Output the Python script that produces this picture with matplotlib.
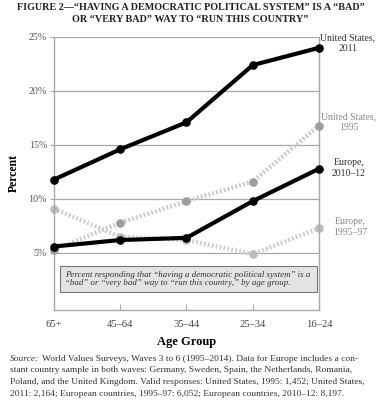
import matplotlib
matplotlib.use("Agg")
import matplotlib.pyplot as plt
from matplotlib.patches import Rectangle
from matplotlib.transforms import offset_copy

plt.rcParams['font.family'] = ['Liberation Serif', 'DejaVu Serif']

age_groups = ["65+", "45–64", "35–44", "25–34", "16–24"]
us_2011 = [11.8, 14.6, 17.1, 22.4, 24.0]
us_1995 = [5.3, 7.8, 9.8, 11.6, 16.8]
eu_2010 = [5.6, 6.2, 6.4, 9.8, 12.8]
eu_1995 = [9.1, 6.5, 6.2, 4.9, 7.3]
y_ticks = [5, 10, 15, 20, 25]
y_tick_labels = ["5%", "10%", "15%", "20%", "25%"]

fig = plt.figure(figsize=(3.81, 4.0), dpi=100)
ax = fig.add_axes([54/381, 1-310/400, (319-54)/381, (310-37)/400])
x = list(range(len(age_groups)))

grid_c = "#a8a8a8"
for y in y_ticks:
    ax.axhline(y, color=grid_c, lw=0.9, zorder=1)

dot_ls = (0, (0.45, 0.45))
ax.plot(x, eu_1995, color="#d0d0d0", lw=3.2, ls=dot_ls, zorder=2, clip_on=False)
ax.plot(x, eu_1995, ls="none", marker="o", ms=5.2, color="#bdbdbd", zorder=2, clip_on=False)
ax.plot(x, us_1995, color="#cccccc", lw=3.2, ls=dot_ls, zorder=3, clip_on=False)
ax.plot(x, us_1995, ls="none", marker="o", ms=5.2, color="#9d9d9d", zorder=3, clip_on=False)
ax.plot(x, eu_2010, color="black", lw=3.0, marker="o", ms=5.2, zorder=4, clip_on=False)
ax.plot(x, us_2011, color="black", lw=3.0, marker="o", ms=5.2, zorder=5, clip_on=False)

ax.set_xlim(0, 4)
ax.set_ylim(-0.28, 25)
ax.set_yticks(y_ticks)
ax.set_yticklabels(y_tick_labels, color="#555555", fontsize=7.2)
ax.set_xticks(x)
ax.set_xticklabels(age_groups, color="#444444", fontsize=7.6)
ax.tick_params(axis='y', length=3, width=0.8, color=grid_c, pad=2)
ax.tick_params(axis='x', direction='in', length=4, width=0.8, color=grid_c, pad=7)
for s in ['left', 'right', 'bottom']:
    ax.spines[s].set_color(grid_c)
    ax.spines[s].set_linewidth(1.0)
ax.spines['top'].set_visible(False)

ax.set_ylabel("Percent", fontsize=8.5, fontweight='bold', labelpad=6)
ax.set_xlabel("Age Group", fontsize=9, fontweight='bold', labelpad=5)

# annotation box
box = Rectangle((60/381, 1-292/400), (317-60)/381, (292-266)/400,
                transform=fig.transFigure, facecolor="#e3e3e3", edgecolor="#777777",
                lw=0.8, zorder=6)
fig.patches.append(box)
fig.text(65/381, 1-279/400,
         "Percent responding that \u201chaving a democratic political system\u201d is a\n"
         "\u201cbad\u201d or \u201cvery bad\u201d way to \u201crun this country,\u201d by age group.",
         fontsize=6.4, style='italic', color="#333333", va='center', ha='left',
         linespacing=1.15, zorder=7)

# right side labels
fig.text(348/381, 1-43/400, "United States,\n2011", fontsize=7, color="#333333",
         ha='center', va='center', linespacing=1.2)
fig.text(349/381, 1-122/400, "United States,\n1995", fontsize=7, color="#888888",
         ha='center', va='center', linespacing=1.2)
fig.text(349/381, 1-168/400, "Europe,\n2010–12", fontsize=7, color="#333333",
         ha='center', va='center', linespacing=1.2)
fig.text(350/381, 1-227/400, "Europe,\n1995–97", fontsize=7, color="#888888",
         ha='center', va='center', linespacing=1.2)

# title
fig.text(0.5, 1-8/400, "FIGURE 2—\u201cHAVING A DEMOCRATIC POLITICAL SYSTEM\u201d IS A \u201cBAD\u201d",
         fontsize=7.3, fontweight='bold', ha='center', va='center', color="#222222")
fig.text(0.5, 1-19/400, "OR \u201cVERY BAD\u201d WAY TO \u201cRUN THIS COUNTRY\u201d",
         fontsize=7.3, fontweight='bold', ha='center', va='center', color="#222222")

# source
src_fs = 6.8
src_lines = [
    "World Values Surveys, Waves 3 to 6 (1995–2014). Data for Europe includes a con-",
    "stant country sample in both waves: Germany, Sweden, Spain, the Netherlands, Romania,",
    "Poland, and the United Kingdom. Valid responses: United States, 1995: 1,452; United States,",
    "2011: 2,164; European countries, 1995–97: 6,052; European countries, 2010–12: 8,197.",
]
renderer = fig.canvas.get_renderer()
t0 = fig.text(10/381, 1-359/400, "Source:", fontsize=src_fs, style='italic',
              color="#333333", ha='left', va='center')
w = t0.get_window_extent(renderer=renderer).width
fig.text(10/381 + (w + 3)/381, 1-359/400, src_lines[0], fontsize=src_fs,
         color="#333333", ha='left', va='center')
for i, line in enumerate(src_lines[1:], start=1):
    fig.text(10/381, 1-(359 + i*11.5)/400, line, fontsize=src_fs, color="#333333",
             ha='left', va='center')

fig.savefig("out.png", dpi=100)
